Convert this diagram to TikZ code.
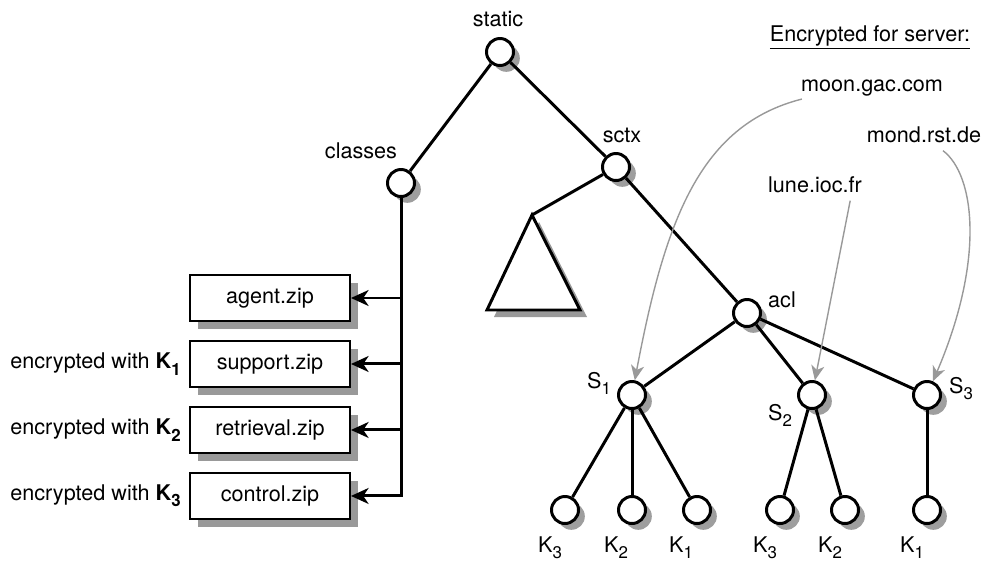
\documentclass[tikz,border=0pt]{standalone}
\usepackage{fontspec}
\setmainfont{TeX Gyre Heros}
\usepackage{tikz}
\usetikzlibrary{shapes,arrows,arrows.meta,shadows,positioning}
\newcommand{\idx}[1]{\raisebox{-3.6pt}{\fontsize{9.6pt}{10pt}\selectfont #1}}
\tikzstyle{treeNode} = [circle, draw, fill=white, line width=1.7pt,
    minimum size=0.54cm, inner sep=0pt,
    drop shadow={shadow xshift=3.6pt, shadow yshift=-3.6pt, fill=black!38, opacity=1}]
\tikzstyle{archive} = [rectangle, draw, fill=white, line width=1.1pt,
    minimum width=3.2cm, minimum height=0.92cm,
    drop shadow={shadow xshift=4.5pt, shadow yshift=-4.5pt, fill=black!40, opacity=1}]
\tikzstyle{tag} = [anchor=base, inner sep=0pt]
\tikzstyle{treeEdge} = [draw, line width=1.7pt]
\tikzstyle{extract} = [draw, line width=1.7pt, -{Stealth[length=10pt, width=9pt, inset=3pt]}]
\tikzstyle{serverLink} = [draw, black!40, line width=0.8pt, -{Stealth[length=8.5pt, width=7.5pt, inset=2.5pt]}]

\begin{document}
\begin{tikzpicture}[x=0.02cm, y=-0.02cm, node distance=1.32cm,
    every node/.style={font=\fontsize{12.3pt}{14.8pt}\selectfont}]
    \useasboundingbox (0,0) rectangle (983,561);
    % Place nodes
    \node[treeNode] (static) at (500,52) {};
    \node[treeNode] (classes) at (401,183) {};
    \node[treeNode] (sctx) at (616,167) {};
    \node[treeNode] (acl) at (747,313) {};
    \node[treeNode] (serverA) at (632,395) {};
    \node[treeNode] (serverB) at (812,395) {};
    \node[treeNode] (serverC) at (927,395) {};
    \node[treeNode] (s1KeyC) at (565,510) {};
    \node[treeNode] (s1KeyB) at (632,510) {};
    \node[treeNode] (s1KeyA) at (697,510) {};
    \node[treeNode] (s2KeyC) at (780,510) {};
    \node[treeNode] (s2KeyB) at (845,510) {};
    \node[treeNode] (s3KeyA) at (927,510) {};

    \node[tag] (staticLabel) at (498,27) {static};
    \node[tag] (classesLabel) at (361,158) {classes};
    \node[tag] (sctxLabel) at (622,142) {sctx};
    \node[tag] (aclLabel) at (782,307) {acl};
    \node[tag] (serverALabel) at (599,388) {S\idx{1}};
    \node[tag] (serverBLabel) at (780,420) {S\idx{2}};
    \node[tag] (serverCLabel) at (961,393) {S\idx{3}};
    \node[tag] (s1KeyCLabel) at (550,552) {K\idx{3}};
    \node[tag] (s1KeyBLabel) at (616,552) {K\idx{2}};
    \node[tag] (s1KeyALabel) at (681,552) {K\idx{1}};
    \node[tag] (s2KeyCLabel) at (765,552) {K\idx{3}};
    \node[tag] (s2KeyBLabel) at (830,552) {K\idx{2}};
    \node[tag] (s3KeyALabel) at (912,552) {K\idx{1}};

    % Archives below classes
    \node[archive] (agentZip) at (270,298) {agent.zip};
    \node[archive, below of=agentZip] (supportZip) {support.zip};
    \node[archive, below of=supportZip] (retrievalZip) {retrieval.zip};
    \node[archive, below of=retrievalZip] (controlZip) {control.zip};
    \node[inner sep=0pt, left=0.16cm of supportZip] (supportKey) {encrypted with \textbf{K\idx{1}}};
    \node[inner sep=0pt, left=0.16cm of retrievalZip] (retrievalKey) {encrypted with \textbf{K\idx{2}}};
    \node[inner sep=0pt, left=0.16cm of controlZip] (controlKey) {encrypted with \textbf{K\idx{3}}};

    % Servers
    \node[tag] (serverTitle) at (870,41) {\underline{Encrypted for server:}};
    \node[tag] (moonHost) at (872,91) {moon.gac.com};
    \node[tag] (mondHost) at (924,142) {mond.rst.de};
    \node[tag] (luneHost) at (815,192) {lune.ioc.fr};

    % Hidden subtree
    \coordinate (subtreeTop) at (532,215);
    \fill[black!40, shift={(7,7)}] (532,215) -- (580,310) -- (487,310) -- cycle;
    \draw[fill=white, line width=1.7pt] (subtreeTop) -- (580,310) -- (487,310) -- cycle;

    % Draw edges
    \path[treeEdge] (static) -- (classes);
    \path[treeEdge] (static) -- (sctx);
    \path[treeEdge] (sctx) -- (subtreeTop);
    \path[treeEdge] (sctx) -- (acl);
    \path[treeEdge] (acl) -- (serverA);
    \path[treeEdge] (acl) -- (serverB);
    \path[treeEdge] (acl) -- (serverC);
    \path[treeEdge] (serverA) -- (s1KeyC);
    \path[treeEdge] (serverA) -- (s1KeyB);
    \path[treeEdge] (serverA) -- (s1KeyA);
    \path[treeEdge] (serverB) -- (s2KeyC);
    \path[treeEdge] (serverB) -- (s2KeyB);
    \path[treeEdge] (serverC) -- (s3KeyA);

    \path[extract] (classes) |- (controlZip);
    \path[extract] (classes |- agentZip) -- (agentZip);
    \path[extract] (classes |- supportZip) -- (supportZip);
    \path[extract] (classes |- retrievalZip) -- (retrievalZip);

    \path[serverLink] ([shift={(1,3)}]moonHost.south west) .. controls (700,125) and (665,220) .. (serverA);
    \path[serverLink] ([shift={(-12,8)}]luneHost.south east) -- (serverB);
    \path[serverLink] ([shift={(19,8)}]mondHost.south) .. controls (975,175) and (985,260) .. (serverC);
\end{tikzpicture}
\end{document}
